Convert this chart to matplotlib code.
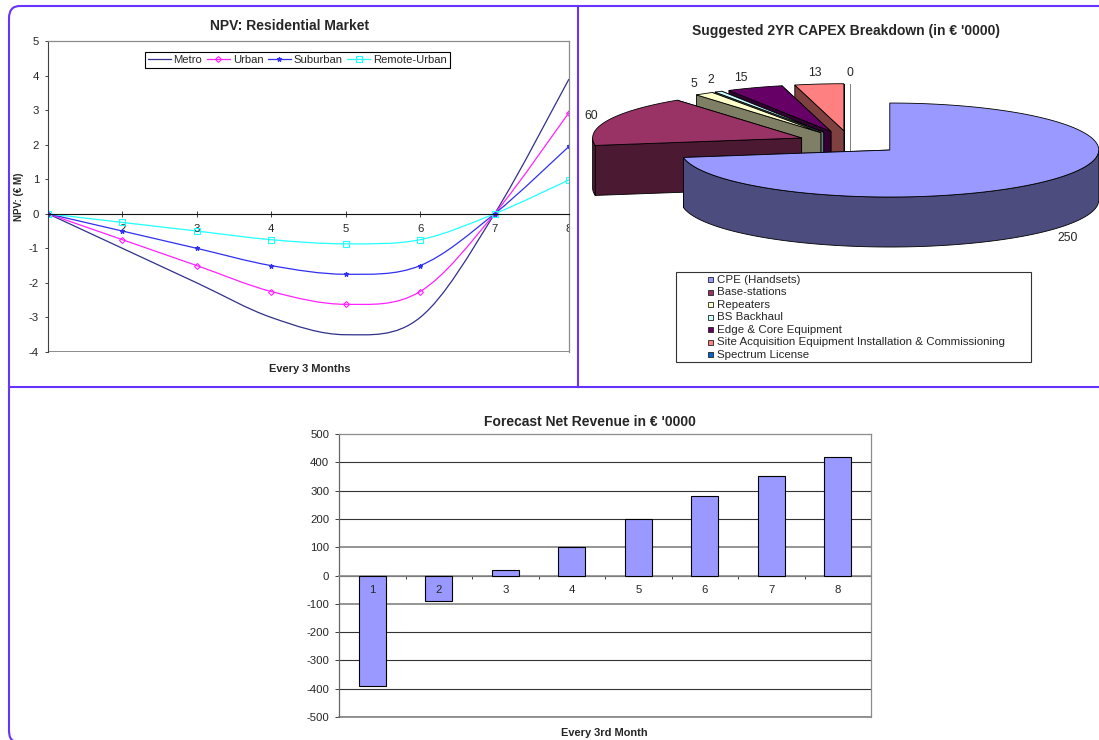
import numpy as np
import matplotlib
matplotlib.use('Agg')
import matplotlib.pyplot as plt
from matplotlib.path import Path
from matplotlib.patches import PathPatch, Polygon, Rectangle
from matplotlib.lines import Line2D

plt.rcParams['font.family'] = ['Liberation Sans', 'DejaVu Sans']
plt.rcParams['axes.unicode_minus'] = False

W, H = 1099, 740

# NPV lines
periods = [1, 2, 3, 4, 5, 6, 7, 8]
metro = [0, -1, -2, -3, -3.5, -3, 0, 3.9]
urban = [0, -0.75, -1.5, -2.25, -2.62, -2.25, 0, 2.93]
suburban = [0, -0.5, -1, -1.5, -1.75, -1.5, 0, 1.95]
remote_urban = [0, -0.25, -0.5, -0.75, -0.87, -0.75, 0, 0.98]

# CAPEX pie
capex_labels = ['CPE (Handsets)', 'Base-stations', 'Repeaters', 'BS Backhaul',
                'Edge & Core Equipment',
                'Site Acquisition Equipment Installation & Commissioning',
                'Spectrum License']
capex_values = [250, 60, 5, 2, 15, 13, 0]
capex_top = ['#9999FF', '#993366', '#FFFFCC', '#CCFFFF', '#660066', '#FF8080', '#0066CC']
capex_side = ['#4C4C7F', '#4C1933', '#7F7F66', '#667F7F', '#330033', '#7F4040', '#A0A0A0']

# net revenue bars
revenue = [-390, -90, 20, 100, 200, 280, 350, 420]

FRAME = '#6633FF'
TEXT = '#262626'
GREY = '#8c8c8c'


def box(fig, left, top, right, bottom):
    # axes placed by pixel edges
    return fig.add_axes([left / W, 1 - bottom / H, (right - left) / W, (bottom - top) / H])


def smooth_path(x, y):
    # bezier through the points, same idea as a smoothed spreadsheet line
    verts = [(x[0], y[0])]
    codes = [Path.MOVETO]
    n = len(x)
    for i in range(n - 1):
        x0, y0 = x[max(i - 1, 0)], y[max(i - 1, 0)]
        x1, y1 = x[i], y[i]
        x2, y2 = x[i + 1], y[i + 1]
        x3, y3 = x[min(i + 2, n - 1)], y[min(i + 2, n - 1)]
        verts += [(x1 + (x2 - x0) / 6, y1 + (y2 - y0) / 6),
                  (x2 - (x3 - x1) / 6, y2 - (y3 - y1) / 6),
                  (x2, y2)]
        codes += [Path.CURVE4] * 3
    return Path(verts, codes)


fig = plt.figure(figsize=(W / 100, H / 100), dpi=100, facecolor='white')

# ---- panel frame and 3d pie share one full size axes in pixels
bg = fig.add_axes([0, 0, 1, 1])
bg.set_xlim(0, W)
bg.set_ylim(H, 0)
bg.axis('off')

frame = Path([(1099, 6), (20, 6), (9, 6), (9, 18), (9, 730), (9, 740), (14, 741)],
             [Path.MOVETO, Path.LINETO, Path.CURVE3, Path.CURVE3, Path.LINETO, Path.CURVE3, Path.CURVE3])
bg.add_patch(PathPatch(frame, fc='none', ec=FRAME, lw=1.5, clip_on=False))
bg.plot([578, 578], [6, 387], color=FRAME, lw=1.5)
bg.plot([9, 1099], [387, 387], color=FRAME, lw=1.5)

# pie geometry
cx, cy = 850, 142.4
rx, ry = 209, 47
depth = 50
explode = 0.25

angles = np.cumsum([0] + capex_values) / sum(capex_values) * 2 * np.pi


def rim(theta, ox, oy):
    return np.column_stack([ox + rx * np.sin(theta), oy - ry * np.cos(theta)])


# back slices first, the big one last
for i in [6, 5, 4, 3, 2, 1, 0]:
    t1, t2 = angles[i], angles[i + 1]
    mid = (t1 + t2) / 2
    ox = cx + explode * rx * np.sin(mid)
    oy = cy - explode * ry * np.cos(mid)
    theta = np.linspace(t1, t2, 200)
    arc = rim(theta, ox, oy)
    c = np.array([[ox, oy]])
    down = np.array([0, depth])
    # cut faces, the one turned to the viewer goes on top
    for p in (arc[-1], arc[0]):
        face = np.array([[ox, oy], p, p + down, [ox, oy + depth]])
        ec = '#808080' if capex_values[i] == 0 else 'black'
        bg.add_patch(Polygon(face, fc=capex_side[i], ec=ec, lw=0.6, joinstyle='round'))
    # outer wall, only the part turned towards the viewer
    front = theta[(theta > np.pi / 2) & (theta < 3 * np.pi / 2)]
    if len(front):
        wall = rim(front, ox, oy)
        bg.add_patch(Polygon(np.vstack([wall, wall[::-1] + down]), fc=capex_side[i], ec='black', lw=0.6))
    if capex_values[i] > 0:
        bg.add_patch(Polygon(np.vstack([c, arc]), fc=capex_top[i], ec='black', lw=0.6))

pie_text = [(1068, 238), (591, 116), (694, 84), (711, 80), (741, 78), (815, 73), (850, 73)]
for v, (px, py) in zip(capex_values, pie_text):
    bg.text(px, py, str(v), fontsize=8.8, color=TEXT, ha='center', va='center')

bg.text(846, 31, "Suggested 2YR CAPEX Breakdown (in € '0000)", fontsize=10, fontweight='bold',
        color=TEXT, ha='center', va='center')

# pie legend
bg.add_patch(Rectangle((676, 272), 355, 90, fc='white', ec='#333333', lw=0.8))
for k, (name, col) in enumerate(zip(capex_labels, capex_top)):
    row = 279.6 + k * 12.5
    bg.add_patch(Rectangle((707.5, row - 2.5), 5, 5, fc=col, ec='#222222', lw=0.6))
    bg.text(717, row, name, fontsize=8.25, color=TEXT, ha='left', va='center')

# ---- NPV lines
ax = box(fig, 48, 41, 569, 352)
ax.patch.set_alpha(0)
ax.set_xlim(1, 8)
ax.set_ylim(-4, 5)
series = [('Metro', metro, '#30308c', None),
          ('Urban', urban, '#FF22FF', 'D'),
          ('Suburban', suburban, '#3030F0', '*'),
          ('Remote-Urban', remote_urban, '#22FFFF', 's')]
handles = []
for name, vals, col, mark in series:
    ax.add_patch(PathPatch(smooth_path(periods, vals), fc='none', ec=col, lw=0.9))
    size = {'D': 3, '*': 3.4, 's': 3.8, None: 0}[mark]
    if mark:
        face = col if mark == '*' else 'none'
        ax.plot(periods, vals, ls='none', marker=mark, ms=size, mfc=face, mec=col, mew=0.8)
    handles.append(Line2D([], [], color=col, lw=0.9, marker=mark, ms=size,
                          mfc=col if mark == '*' else 'none', mec=col, mew=0.8, label=name))

ax.spines['bottom'].set_position(('data', 0))
ax.spines['bottom'].set_color('#111111')
ax.spines['bottom'].set_linewidth(0.8)
ax.axhline(-4, color=GREY, lw=1.4)
for s in ['top', 'right']:
    ax.spines[s].set_color(GREY)
    ax.spines[s].set_linewidth(0.9)
ax.spines['left'].set_color('#404040')
ax.spines['left'].set_linewidth(0.8)
ax.set_yticks(range(-4, 6))
ax.set_xticks(periods)
ax.set_xticklabels([])
ax.tick_params(axis='x', direction='inout', length=4.5, width=0.7, color='#404040')
ax.tick_params(axis='y', length=2.5, width=0.7, labelsize=8.2, labelcolor=TEXT, pad=4, color='#404040')
for p in periods[1:]:
    ax.annotate(str(p), (p, 0), xytext=(0, -11), textcoords='offset points', ha='center', va='center',
                fontsize=8.2, color=TEXT, clip_on=True, zorder=1)
leg = ax.legend(handles=handles, ncols=4, loc='upper left', bbox_to_anchor=(0.186, 0.965), borderaxespad=0,
                fontsize=8.1, fancybox=False, framealpha=1, edgecolor='black', handlelength=2.05,
                handletextpad=0.25, columnspacing=0.4, borderpad=0.25, labelcolor=TEXT)
leg.get_frame().set_linewidth(0.8)
bg.text(290, 26, 'NPV: Residential Market', fontsize=10, fontweight='bold', color=TEXT, ha='center', va='center')
bg.text(18.5, 197, 'NPV: (€ M)', fontsize=7, fontweight='bold', color=TEXT, ha='center', va='center', rotation=90)
bg.text(309.5, 369.5, 'Every 3 Months', fontsize=7.9, fontweight='bold', color=TEXT, ha='center', va='center')

# ---- net revenue bars
ax2 = box(fig, 339, 434, 871, 717)
ax2.patch.set_alpha(0)
ax2.set_xlim(0.5, 8.5)
ax2.set_ylim(-500, 500)
ax2.set_axisbelow(True)
ax2.bar(periods, revenue, width=0.4, color='#9999FF', edgecolor='black', linewidth=0.8, zorder=3)
ax2.set_yticks(range(-500, 501, 100))
ax2.set_xticks(np.arange(0.5, 9))
ax2.set_xticklabels([])
ax2.grid(axis='y', color='#333333', lw=0.8)
ax2.xaxis.grid(False)
# gridlines at +-100 read heavier and lighter than the rest
for line, tick in zip(ax2.get_ygridlines(), ax2.get_yticks()):
    if abs(tick) in (100, 500):
        line.set_color(GREY)
        line.set_linewidth(1.3)
ax2.axhline(-500, color=GREY, lw=1.3, clip_on=False)
ax2.spines['bottom'].set_position(('data', 0))
ax2.spines['bottom'].set_color(GREY)
ax2.spines['bottom'].set_linewidth(1.2)
for s in ['top', 'right']:
    ax2.spines[s].set_color(GREY)
    ax2.spines[s].set_linewidth(0.9)
ax2.spines['left'].set_color('#666666')
ax2.spines['left'].set_linewidth(0.9)
ax2.tick_params(axis='x', length=2.5, width=0.7, color='#404040')
ax2.tick_params(axis='y', length=3, width=0.7, labelsize=8.2, labelcolor=TEXT, pad=4, color='#404040')
for p in periods:
    ax2.annotate(str(p), (p, 0), xytext=(0, -10.5), textcoords='offset points', ha='center', va='center',
                 fontsize=8.2, color=TEXT, zorder=5)
bg.text(590, 421.5, "Forecast Net Revenue in € '0000", fontsize=10, fontweight='bold', color=TEXT, ha='center', va='center')
bg.text(604.5, 733, 'Every 3rd Month', fontsize=7.9, fontweight='bold', color=TEXT, ha='center', va='center')

fig.savefig('out.png', dpi=100)
